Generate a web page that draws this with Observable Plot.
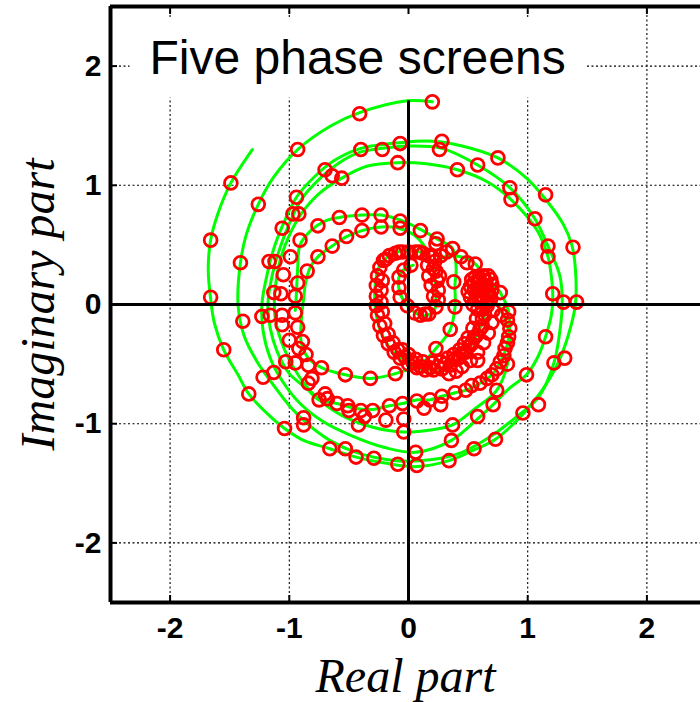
<!DOCTYPE html>
<html><head><meta charset="utf-8">
<script src="https://cdn.jsdelivr.net/npm/d3@7"></script>
<script src="https://cdn.jsdelivr.net/npm/@observablehq/plot@0.6"></script>
<style>body{margin:0;background:#fff;} svg{display:block}</style>
</head><body><div id="chart"></div>
<script>
const titleText = "Five phase screens";
const xTitle = "Real part";
const yTitle = "Imaginary part";
const xDomain = [-2.5, 2.5];
const yDomain = [-2.5, 2.5];
const xTicks = [-2, -1, 0, 1, 2];
const xTickLabels = ["-2", "-1", "0", "1", "2"];
const yTicks = [-2, -1, 0, 1, 2];
const yTickLabels = ["-2", "-1", "0", "1", "2"];
const gridTicks = [-2, -1, 1, 2];

// green traces [real, imag]
const spiralOuter = [[-1.31,1.30],[-1.49,1.02],[-1.60,0.76],[-1.66,0.54],[-1.68,0.29],[-1.66,0.05],[-1.63,-0.15],[-1.55,-0.38],[-1.43,-0.59],[-1.34,-0.75],[-1.18,-0.92],[-1.04,-1.04],[-0.88,-1.14],[-0.66,-1.21],[-0.44,-1.28],[-0.20,-1.33],[0.07,-1.36],[0.34,-1.31],[0.55,-1.22],[0.73,-1.13],[0.96,-0.92],[1.12,-0.72],[1.25,-0.50],[1.34,-0.26],[1.40,0.00],[1.40,0.30],[1.37,0.50],[1.30,0.67],[1.16,0.87],[0.99,1.06],[0.75,1.23],[0.45,1.33],[0.20,1.37],[-0.05,1.36],[-0.40,1.31],[-0.62,1.21],[-0.78,1.08],[-0.94,0.90],[-1.04,0.70],[-1.12,0.50],[-1.18,0.28],[-1.23,0.00],[-1.22,-0.22],[-1.16,-0.45],[-1.06,-0.64],[-0.92,-0.82],[-0.72,-0.98],[-0.48,-1.10],[-0.20,-1.20],[0.06,-1.24],[0.36,-1.14],[0.58,-0.96],[0.71,-0.84],[0.85,-0.70],[0.99,-0.59],[1.09,-0.43],[1.15,-0.27],[1.20,-0.08],[1.21,0.09],[1.19,0.30],[1.17,0.40],[1.08,0.62],[0.86,0.88],[0.66,1.03],[0.41,1.13],[0.15,1.18],[-0.09,1.19],[-0.35,1.16],[-0.56,1.06],[-0.75,0.93],[-0.90,0.76],[-1.00,0.58],[-1.08,0.36],[-1.12,0.12],[-1.12,-0.10],[-1.04,-0.38],[-0.92,-0.60],[-0.76,-0.79],[-0.56,-0.93],[-0.30,-1.03],[-0.04,-1.07],[0.20,-1.05],[0.37,-1.01],[0.55,-0.88],[0.74,-0.72],[0.83,-0.50],[0.85,-0.27],[0.80,-0.10],[0.72,0.05],[0.66,0.14]];
const spiralTop = [[0.20,1.70],[-0.01,1.71],[-0.41,1.61],[-0.65,1.50],[-0.93,1.30],[-1.13,1.07],[-1.26,0.84],[-1.36,0.59],[-1.41,0.35],[-1.43,0.00],[-1.38,-0.26],[-1.27,-0.48],[-1.13,-0.68],[-0.99,-0.86],[-0.85,-1.00],[-0.66,-1.14],[-0.44,-1.24],[-0.10,-1.31],[0.20,-1.30],[0.45,-1.24],[0.70,-1.10],[0.92,-0.93],[1.09,-0.78],[1.22,-0.49],[1.27,-0.22],[1.29,0.02],[1.27,0.24],[1.17,0.49],[1.06,0.72],[0.85,0.98],[0.58,1.17],[0.28,1.31],[0.00,1.33],[-0.22,1.31],[-0.40,1.28],[-0.58,1.19],[-0.74,1.06],[-0.90,0.88],[-0.99,0.70],[-1.07,0.50],[-1.14,0.26],[-1.18,0.00],[-1.16,-0.20],[-1.10,-0.40],[-1.00,-0.58],[-0.86,-0.70],[-0.75,-0.80],[-0.60,-0.83],[-0.45,-0.87],[-0.30,-0.88],[-0.16,-0.85],[-0.05,-0.83],[0.08,-0.80],[0.18,-0.80],[0.28,-0.77],[0.39,-0.74],[0.48,-0.72],[0.60,-0.66],[0.70,-0.59],[0.77,-0.48],[0.83,-0.33],[0.85,-0.15],[0.84,-0.06],[0.77,0.10],[0.70,0.18]];
const middleLoop = [[-0.95,-0.05],[-0.94,0.10],[-0.93,0.30],[-0.91,0.50],[-0.82,0.62],[-0.70,0.70],[-0.58,0.73],[-0.39,0.75],[-0.23,0.75],[-0.07,0.71],[0.10,0.63],[0.24,0.55],[0.37,0.47],[0.40,0.30],[0.39,0.17],[0.39,-0.02],[0.35,-0.21],[0.23,-0.37],[0.10,-0.50],[-0.11,-0.58],[-0.32,-0.62],[-0.53,-0.59],[-0.73,-0.53],[-0.84,-0.45],[-0.90,-0.32],[-0.90,-0.15],[-0.88,0.05],[-0.86,0.20],[-0.82,0.32],[-0.76,0.40],[-0.64,0.49],[-0.52,0.57],[-0.39,0.62],[-0.23,0.65],[-0.08,0.64],[0.05,0.58],[0.14,0.48],[0.17,0.41]];
const innerLoop = [[0.17,0.41],[0.06,0.45],[-0.05,0.45],[-0.16,0.41],[-0.25,0.31],[-0.28,0.16],[-0.28,-0.01],[-0.25,-0.18],[-0.18,-0.33],[-0.07,-0.45],[0.07,-0.53],[0.21,-0.55],[0.35,-0.51],[0.48,-0.40],[0.57,-0.26],[0.64,-0.09],[0.66,0.08],[0.63,0.23],[0.56,0.34],[0.44,0.40],[0.30,0.40],[0.22,0.34],[0.22,0.24],[0.23,0.14],[0.23,0.05],[0.22,-0.04],[0.16,-0.09],[0.10,-0.09],[0.03,-0.05],[-0.04,0.03],[-0.08,0.13],[-0.08,0.23],[-0.03,0.30],[0.04,0.33]];

// red sample circles [real, imag]
const outerCircles = [[0.20,1.70],[-0.41,1.60],[-0.93,1.30],[-1.49,1.02],[-1.26,0.84],[-1.66,0.54],[-1.41,0.35],[-1.66,0.06],[-0.40,1.30],[-0.22,1.30],[-0.07,1.35],[-0.09,1.19],[-0.70,1.13],[-0.64,1.08],[-0.56,1.06],[-0.94,0.90],[-0.97,0.76],[-0.92,0.76],[-1.06,0.64],[-0.99,0.40],[-1.17,0.36],[-1.12,0.36],[-1.05,0.25],[-1.13,0.10],[-1.07,0.09],[-0.95,0.07],[-0.93,0.18],[0.28,1.37],[0.26,1.30],[0.41,1.13],[0.58,1.17],[0.75,1.23],[0.85,0.98],[0.86,0.88],[1.15,0.92],[1.06,0.72],[1.17,0.49],[1.17,0.40],[1.38,0.48],[1.21,0.09],[1.30,0.02],[1.41,0.02],[-1.39,-0.14],[-1.55,-0.38],[-1.34,-0.75],[-1.04,-1.04],[-1.23,-0.10],[-1.16,-0.09],[-1.06,-0.09],[-0.95,-0.07],[-1.06,-0.17],[-0.93,-0.19],[-1.00,-0.30],[-0.89,-0.31],[-0.92,-0.37],[-0.86,-0.42],[-1.03,-0.48],[-0.95,-0.49],[-1.22,-0.61],[-1.13,-0.57],[-0.88,-0.95],[-0.88,-1.01],[-0.66,-1.21],[-0.53,-1.21],[-0.44,-1.28],[-0.29,-1.29],[-0.09,-1.34],[0.07,-1.35],[0.34,-1.31],[0.55,-1.21],[0.73,-1.13],[0.96,-0.91],[1.09,-0.84],[0.99,-0.59],[1.22,-0.49],[1.31,-0.45],[1.15,-0.27],[0.06,-1.24],[0.36,-1.14],[0.37,-1.01],[0.58,-0.94],[0.71,-0.84],[0.74,-0.72],[-0.42,-1.01],[-0.37,-0.94],[-0.19,-0.97],[-0.04,-0.96],[-0.04,-1.07]];
const middleCircles = [[-0.91,0.54],[-0.85,0.28],[-0.76,0.66],[-0.76,0.40],[-0.64,0.49],[-0.58,0.73],[-0.52,0.57],[-0.39,0.75],[-0.39,0.62],[-0.23,0.75],[-0.23,0.65],[-0.07,0.70],[-0.07,0.64],[0.10,0.62],[0.24,0.55],[0.23,0.51],[0.37,0.47],[0.38,0.19],[0.39,-0.02],[0.35,-0.21],[0.23,-0.37],[-0.11,-0.58],[-0.32,-0.62],[-0.53,-0.59],[-0.73,-0.53],[-0.84,-0.51],[-0.81,-0.62],[-0.84,-0.66],[-0.75,-0.80],[-0.70,-0.75],[-0.68,-0.79],[-0.60,-0.83],[-0.51,-0.85],[-0.50,-0.89],[-0.40,-0.89],[-0.30,-0.89],[-0.16,-0.85],[-0.05,-0.83],[0.07,-0.81],[0.13,-0.87],[0.18,-0.80],[0.27,-0.84],[0.28,-0.77],[0.39,-0.74],[0.48,-0.72],[0.53,-0.68],[0.60,-0.66],[0.66,-0.62],[0.70,-0.59],[0.74,-0.54],[0.77,-0.48],[0.80,-0.43],[0.81,-0.37],[0.83,-0.32],[0.84,-0.27],[0.83,-0.50],[0.85,-0.20],[0.83,-0.13],[0.84,-0.06],[0.78,-0.09],[0.77,0.10],[0.58,-0.47]];
const innerCircles = [[0.17,0.41],[0.12,0.43],[0.06,0.44],[0.00,0.44],[-0.05,0.44],[-0.11,0.43],[-0.16,0.41],[-0.21,0.37],[-0.24,0.31],[-0.26,0.24],[-0.27,0.16],[-0.27,0.07],[-0.27,-0.01],[-0.26,-0.09],[-0.24,-0.18],[-0.21,-0.26],[-0.17,-0.33],[-0.12,-0.40],[-0.07,-0.45],[0.00,-0.50],[0.07,-0.53],[0.14,-0.55],[0.21,-0.55],[0.28,-0.54],[0.35,-0.51],[0.42,-0.45],[0.48,-0.40],[0.53,-0.33],[0.57,-0.26],[0.62,-0.18],[0.64,-0.09],[0.66,-0.01],[0.66,0.08],[0.64,0.16],[0.63,0.23],[-0.23,0.12],[-0.23,0.02],[-0.22,-0.06],[-0.22,0.20],[-0.20,-0.16],[-0.17,-0.25],[-0.13,-0.32],[-0.09,-0.38],[-0.03,-0.44],[0.04,-0.49],[0.10,-0.52],[0.18,-0.53],[0.25,-0.52],[0.31,-0.50],[0.39,-0.46],[0.45,-0.41],[0.51,-0.35],[0.55,-0.28],[0.60,-0.21],[0.62,-0.12],[0.62,-0.04],[-0.19,0.38],[-0.08,0.44],[0.09,0.44],[0.45,-0.52],[0.52,-0.47],[0.58,-0.40],[0.63,-0.32],[0.67,-0.24],[0.70,-0.15],[0.71,-0.05],[0.40,-0.56],[0.34,-0.58],[-0.05,-0.38],[0.00,-0.42],[0.06,-0.46],[0.12,-0.48],[0.20,-0.49],[0.27,-0.48],[0.33,-0.45],[0.38,-0.42],[0.43,-0.38],[0.47,-0.33],[0.50,-0.28],[0.54,-0.20],[0.57,-0.12],[0.58,-0.04],[0.16,0.33],[0.17,0.24],[0.19,0.16],[0.21,0.07],[0.23,-0.02],[0.22,0.36],[0.23,0.28],[0.24,0.20],[0.25,0.12],[0.25,0.04],[0.20,0.40],[0.26,0.24],[0.21,0.30],[0.17,-0.08],[0.10,-0.09],[0.05,-0.07],[-0.01,-0.01],[-0.07,0.06],[-0.08,0.14],[-0.08,0.23],[-0.04,0.29],[0.02,0.33],[0.14,-0.08],[0.27,0.41],[0.44,0.40],[0.49,0.35],[0.56,0.34],[0.32,0.44]];
const blobCircles = [[0.55,0.18],[0.59,0.22],[0.63,0.24],[0.67,0.24],[0.69,0.21],[0.70,0.17],[0.70,0.12],[0.68,0.08],[0.63,0.06],[0.58,0.07],[0.55,0.12],[0.60,0.15],[0.65,0.16],[0.66,0.11],[0.62,0.11],[0.57,0.04],[0.69,0.05],[0.60,0.19],[0.52,0.15],[0.53,0.21],[0.50,0.11],[0.52,0.06],[0.61,0.02],[0.66,0.02],[0.56,0.23],[0.64,0.20],[0.58,0.12],[0.54,0.00]];

const traces = [spiralOuter, spiralTop, middleLoop, innerLoop];
const circles = [...outerCircles, ...middleCircles, ...innerCircles, ...blobCircles];

const sans = "Liberation Sans, Arial, Helvetica, sans-serif";
const serif = "Liberation Serif, Times New Roman, serif";
const green = "#00ff00", red = "#ff0000";

const chart = Plot.plot({
  width: 700, height: 702,
  marginLeft: 110, marginRight: 0, marginTop: 6, marginBottom: 100,
  x: {domain: xDomain, range: [110, 706]},
  y: {domain: yDomain, range: [602, 6]},
  style: {background: "#fff", overflow: "visible"},
  marks: [
    Plot.gridX(gridTicks, {stroke: "#000", strokeOpacity: 1, strokeWidth: 1.1, strokeDasharray: "2,2.5"}),
    Plot.gridY(gridTicks, {stroke: "#000", strokeOpacity: 1, strokeWidth: 1.1, strokeDasharray: "2,2.5"}),
    Plot.text([titleText], {frameAnchor: "top-left", textAnchor: "start", lineAnchor: "top", dx: 39, dy: 33, fontSize: 48, fontFamily: sans, fill: "#000"}),
    ...traces.map(t => Plot.line(t, {x: d => d[0], y: d => d[1], stroke: green, strokeWidth: 3, curve: "catmull-rom"})),
    Plot.dot(circles, {x: d => d[0], y: d => d[1], r: 6.4, stroke: red, strokeWidth: 2.8, fill: "none"}),
    Plot.ruleY([0], {stroke: "#000", strokeWidth: 3}),
    Plot.ruleX([0], {y1: yDomain[0], y2: d3.max(spiralTop, d => d[1]), stroke: "#000", strokeWidth: 3}),
    Plot.ruleX([xDomain[0]], {stroke: "#000", strokeWidth: 4}),
    Plot.ruleY([yDomain[0]], {stroke: "#000", strokeWidth: 4}),
    Plot.ruleY([yDomain[1]], {stroke: "#000", strokeWidth: 4}),
    Plot.axisX(xTicks, {anchor: "bottom", tickSize: -7, strokeWidth: 2, tickFormat: () => "", label: null}),
    Plot.axisX(xTicks, {anchor: "top", tickSize: -7, strokeWidth: 2, tickFormat: () => "", label: null}),
    Plot.axisY(yTicks, {anchor: "left", tickSize: -7, strokeWidth: 2, tickFormat: () => "", label: null}),
    Plot.axisX(xTicks, {anchor: "bottom", tickSize: 0, tickPadding: 14, tickFormat: d => xTickLabels[xTicks.indexOf(d)], fontSize: 30, fontWeight: "bold", fontFamily: sans, fill: "#000", label: null}),
    Plot.axisY(yTicks, {anchor: "left", tickSize: 0, tickPadding: 9, tickFormat: d => yTickLabels[yTicks.indexOf(d)], fontSize: 30, fontWeight: "bold", fontFamily: sans, fill: "#000", label: null}),
    Plot.text([xTitle], {frameAnchor: "bottom", textAnchor: "middle", lineAnchor: "bottom", dy: 89, fontSize: 48, fontStyle: "italic", fontFamily: serif, fill: "#000"}),
    Plot.text([yTitle], {frameAnchor: "left", textAnchor: "middle", lineAnchor: "bottom", rotate: -90, dx: -57, fontSize: 48, fontStyle: "italic", fontFamily: serif, fill: "#000"})
  ]
});
document.getElementById("chart").append(chart);

// white background box behind the in-plot title (as in the original)
const t = [...chart.querySelectorAll("text")].find(e => e.textContent === titleText);
if (t) {
  const b = t.getBBox();
  const rect = document.createElementNS("http://www.w3.org/2000/svg", "rect");
  rect.setAttribute("x", b.x - 20);
  rect.setAttribute("y", b.y - 13);
  rect.setAttribute("width", b.width + 40);
  rect.setAttribute("height", b.height + 27);
  rect.setAttribute("fill", "#fff");
  const tr = t.getAttribute("transform");
  if (tr) rect.setAttribute("transform", tr);
  t.parentNode.insertBefore(rect, t);
}
</script>
</body></html>
